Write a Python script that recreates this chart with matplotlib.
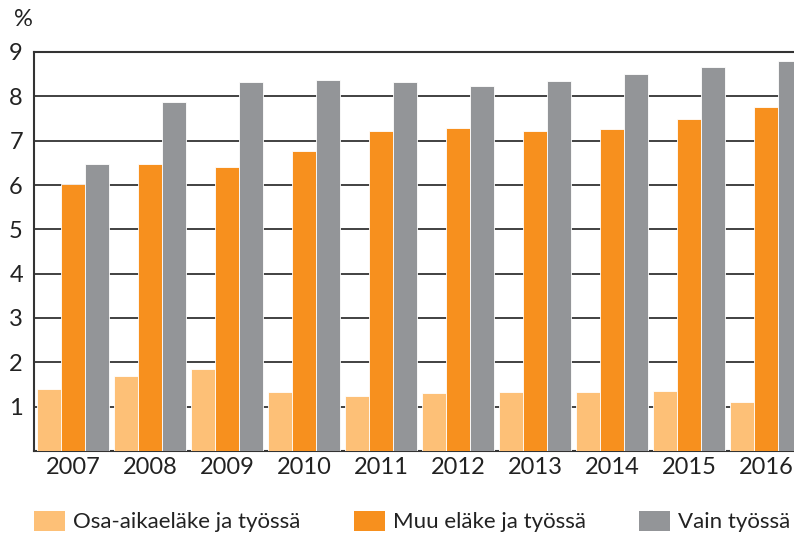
import matplotlib
matplotlib.use("Agg")
import matplotlib.pyplot as plt
import numpy as np

years = ["2007", "2008", "2009", "2010", "2011", "2012", "2013", "2014", "2015", "2016"]
osa_aika = [1.40, 1.69, 1.86, 1.32, 1.25, 1.30, 1.33, 1.34, 1.35, 1.10]
muu_elake = [6.03, 6.48, 6.40, 6.76, 7.21, 7.29, 7.21, 7.26, 7.49, 7.76]
vain_tyossa = [6.47, 7.87, 8.33, 8.37, 8.33, 8.23, 8.35, 8.50, 8.66, 8.79]
series_names = ["Osa-aikaeläke ja työssä", "Muu eläke ja työssä", "Vain työssä"]
colors = ["#FDC077", "#F7901E", "#939598"]
yticks = [1, 2, 3, 4, 5, 6, 7, 8, 9]

plt.rcParams['font.family'] = ['Lato', 'DejaVu Sans']

fig = plt.figure(figsize=(7.94, 5.37), dpi=100)
ax = fig.add_axes([34/794, 86/537, 1 - 34/794, (451-52)/537])

x = np.arange(len(years))
w = 0.312
handles = []
for i, (vals, name, c) in enumerate(zip([osa_aika, muu_elake, vain_tyossa], series_names, colors)):
    b = ax.bar(x + (i - 1) * w, vals, width=w, color=c, edgecolor="white", linewidth=0.6,
               label=name, zorder=3)
    handles.append(b)

ax.set_xlim(-0.506, 9.364)
ax.set_ylim(0, 9)
ax.set_yticks(yticks)
ax.set_xticks(x)
ax.set_xticklabels(years)
for yv in yticks[:-1]:
    ax.axhline(yv, color="#333333", linewidth=1.3, zorder=1)
ax.tick_params(axis="both", length=0, labelsize=17, colors="#222222")
ax.tick_params(axis="y", pad=8)
ax.tick_params(axis="x", pad=4)
for s in ["left", "bottom", "top"]:
    ax.spines[s].set_color("#333333")
    ax.spines[s].set_linewidth(1.5)
ax.spines["right"].set_visible(False)

fig.text(14/794, 1 - 20/537, "%", fontsize=17, color="#222222", va="center", ha="left")

leg = fig.legend(handles=handles, labels=series_names, loc="center left",
                 bbox_to_anchor=(34/794, 1 - 521.5/537), ncol=3, frameon=False,
                 fontsize=16, handlelength=1.40, handleheight=1.04, handletextpad=0.36,
                 columnspacing=2.4, borderpad=0, borderaxespad=0, labelcolor="#222222")
for p in leg.get_patches():
    p.set_edgecolor("none")

fig.savefig("out.png", dpi=100)
